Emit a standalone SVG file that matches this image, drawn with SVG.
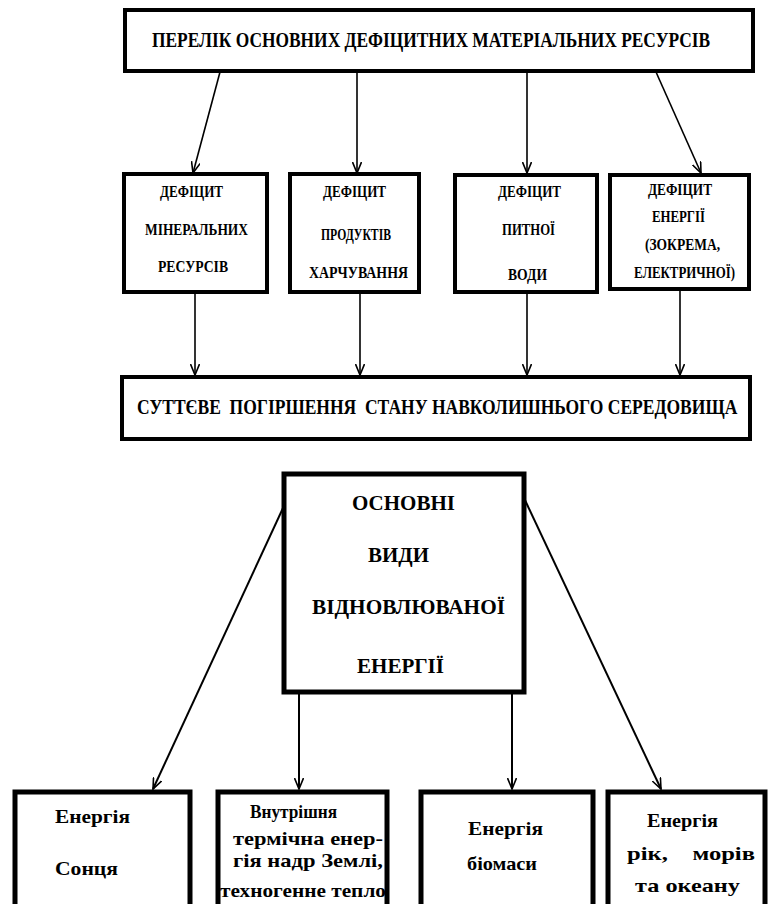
<svg xmlns="http://www.w3.org/2000/svg" width="771" height="904" viewBox="0 0 771 904">
<style>
.box{fill:#fff;stroke:#000;stroke-width:4}
.box2{fill:#fff;stroke:#000;stroke-width:5}
.t{font-weight:bold;fill:#000}
.c{fill:none;stroke:#000;stroke-width:1.6}
.c2{fill:none;stroke:#000;stroke-width:2}
</style>
<defs>
<marker id="ah" viewBox="0 0 12 10" refX="11" refY="5" markerWidth="12" markerHeight="10" markerUnits="userSpaceOnUse" orient="auto">
<path d="M0,0.5 L11,5 L0,9.5" fill="none" stroke="#000" stroke-width="1.6"/>
</marker>
</defs>
<rect width="771" height="904" fill="#fff"/>
<g id="connectors">
<line class="c" x1="220" y1="72" x2="193" y2="173" marker-end="url(#ah)"/>
<line class="c" x1="357" y1="72" x2="357" y2="173" marker-end="url(#ah)"/>
<line class="c" x1="527" y1="72" x2="527" y2="173" marker-end="url(#ah)"/>
<line class="c" x1="656" y1="72" x2="701" y2="173" marker-end="url(#ah)"/>
<line class="c" x1="195" y1="292" x2="195" y2="375" marker-end="url(#ah)"/>
<line class="c" x1="360" y1="292" x2="360" y2="375" marker-end="url(#ah)"/>
<line class="c" x1="527" y1="292" x2="527" y2="375" marker-end="url(#ah)"/>
<line class="c" x1="680" y1="290" x2="680" y2="375" marker-end="url(#ah)"/>
<line class="c2" x1="283" y1="508" x2="153" y2="789" marker-end="url(#ah)"/>
<line class="c2" x1="299" y1="692" x2="299" y2="789" marker-end="url(#ah)"/>
<line class="c2" x1="512" y1="692" x2="512" y2="789" marker-end="url(#ah)"/>
<line class="c2" x1="524" y1="498" x2="661" y2="789" marker-end="url(#ah)"/>
</g>
<g font-family="'Liberation Serif', 'Times New Roman', 'DejaVu Serif', serif">
<g id="top">
<rect class="box" x="125" y="10" width="628" height="61"/>
<text class="t" transform="translate(152,47) scale(0.86,1)" x="0" y="0" font-size="20" textLength="649" lengthAdjust="spacingAndGlyphs">ПЕРЕЛІК ОСНОВНИХ ДЕФІЦИТНИХ МАТЕРІАЛЬНИХ РЕСУРСІВ</text>
</g>
<g id="d1">
<rect class="box" x="124" y="174" width="143" height="118"/>
<text class="t" x="160" y="197" font-size="16" textLength="63" lengthAdjust="spacingAndGlyphs">ДЕФІЦИТ</text>
<text class="t" x="145" y="235" font-size="16" textLength="103" lengthAdjust="spacingAndGlyphs">МІНЕРАЛЬНИХ</text>
<text class="t" x="158" y="272" font-size="16" textLength="70" lengthAdjust="spacingAndGlyphs">РЕСУРСІВ</text>
</g>
<g id="d2">
<rect class="box" x="290" y="174" width="129" height="118"/>
<text class="t" x="323" y="197" font-size="16" textLength="63" lengthAdjust="spacingAndGlyphs">ДЕФІЦИТ</text>
<text class="t" x="321" y="240" font-size="16" textLength="70" lengthAdjust="spacingAndGlyphs">ПРОДУКТІВ</text>
<text class="t" x="309" y="278" font-size="16" textLength="99" lengthAdjust="spacingAndGlyphs">ХАРЧУВАННЯ</text>
</g>
<g id="d3">
<rect class="box" x="455" y="175" width="142" height="117"/>
<text class="t" x="498" y="197" font-size="16" textLength="63" lengthAdjust="spacingAndGlyphs">ДЕФІЦИТ</text>
<text class="t" x="502" y="235" font-size="16" textLength="53" lengthAdjust="spacingAndGlyphs">ПИТНОЇ</text>
<text class="t" x="508" y="280" font-size="16" textLength="39" lengthAdjust="spacingAndGlyphs">ВОДИ</text>
</g>
<g id="d4">
<rect class="box" x="610" y="175" width="139" height="114"/>
<text class="t" x="648" y="195" font-size="16" textLength="64" lengthAdjust="spacingAndGlyphs">ДЕФІЦИТ</text>
<text class="t" x="652" y="222" font-size="16" textLength="53" lengthAdjust="spacingAndGlyphs">ЕНЕРГІЇ</text>
<text class="t" x="645" y="250" font-size="16" textLength="75" lengthAdjust="spacingAndGlyphs">(ЗОКРЕМА,</text>
<text class="t" x="634" y="278" font-size="16" textLength="101" lengthAdjust="spacingAndGlyphs">ЕЛЕКТРИЧНОЇ)</text>
</g>
<g id="env">
<rect class="box" x="122" y="377" width="628" height="62"/>
<text class="t" transform="translate(137,414) scale(0.86,1)" x="0" y="0" font-size="20" textLength="698" lengthAdjust="spacingAndGlyphs" xml:space="preserve">СУТТЄВЕ  ПОГІРШЕННЯ  СТАНУ НАВКОЛИШНЬОГО СЕРЕДОВИЩА</text>
</g>
<g id="main">
<rect class="box2" x="284" y="474" width="240" height="218"/>
<text class="t" x="352" y="510" font-size="22" textLength="103" lengthAdjust="spacingAndGlyphs">ОСНОВНІ</text>
<text class="t" x="368" y="562" font-size="22" textLength="61" lengthAdjust="spacingAndGlyphs">ВИДИ</text>
<text class="t" x="312" y="614" font-size="22" textLength="193" lengthAdjust="spacingAndGlyphs">ВІДНОВЛЮВАНОЇ</text>
<text class="t" x="357" y="673" font-size="22" textLength="87" lengthAdjust="spacingAndGlyphs">ЕНЕРГІЇ</text>
</g>
<g id="sun">
<rect class="box2" x="15" y="792" width="175" height="130"/>
<text class="t" x="55" y="823" font-size="19" textLength="75" lengthAdjust="spacingAndGlyphs">Енергія</text>
<text class="t" x="55" y="875" font-size="19" textLength="63" lengthAdjust="spacingAndGlyphs">Сонця</text>
</g>
<g id="geo">
<rect class="box2" x="218" y="792" width="169" height="130"/>
<text class="t" x="250" y="818" font-size="19" textLength="87" lengthAdjust="spacingAndGlyphs">Внутрішня</text>
<text class="t" x="233" y="845" font-size="19" textLength="150" lengthAdjust="spacingAndGlyphs">термічна енер-</text>
<text class="t" x="233" y="867" font-size="19" textLength="150" lengthAdjust="spacingAndGlyphs">гія надр Землі,</text>
<text class="t" x="220" y="897" font-size="19" textLength="166" lengthAdjust="spacingAndGlyphs">техногенне тепло</text>
</g>
<g id="bio">
<rect class="box2" x="421" y="792" width="172" height="130"/>
<text class="t" x="468" y="835" font-size="19" textLength="75" lengthAdjust="spacingAndGlyphs">Енергія</text>
<text class="t" x="467" y="870" font-size="19" textLength="70" lengthAdjust="spacingAndGlyphs">біомаси</text>
</g>
<g id="water">
<rect class="box2" x="608" y="792" width="157" height="130"/>
<text class="t" x="647" y="827" font-size="19" textLength="71" lengthAdjust="spacingAndGlyphs">Енергія</text>
<text class="t" x="627" y="860" font-size="19" textLength="128" lengthAdjust="spacingAndGlyphs" xml:space="preserve">рік,    морів</text>
<text class="t" x="635" y="892" font-size="19" textLength="105" lengthAdjust="spacingAndGlyphs">та океану</text>
</g>
</g>
</svg>
